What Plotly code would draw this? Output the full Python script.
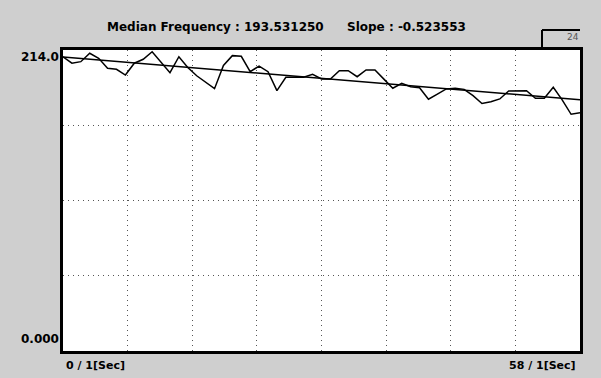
import plotly.graph_objects as go

# ---- data ----
seconds = list(range(0, 59))
median_freq = [
    209.2, 204.6, 205.7, 211.7, 208.1, 201.0, 200.3, 196.2, 204.6, 207.4,
    212.8, 205.7, 197.9, 209.2, 201.5, 195.7, 191.3, 186.5, 203.0, 210.0,
    209.5, 198.6, 202.6, 198.6, 185.1, 194.6, 194.6, 194.6, 196.7, 193.4,
    193.4, 199.3, 199.3, 195.0, 199.8, 199.8, 193.3, 186.8, 190.3, 187.9,
    187.2, 179.0, 182.6, 186.3, 186.8, 186.0, 181.5, 176.0, 177.2, 179.2,
    184.9, 185.0, 185.1, 179.7, 179.7, 187.5, 178.5, 168.3, 169.4,
]
fit_x = [0, 58]
fit_y = [209.0, 178.6]

y_max = 214.0
x_max = 58
title_median = "Median Frequency : 193.531250"
title_slope = "Slope : -0.523553"
y_top_label = "214.0"
y_bottom_label = "0.000"
x_left_label = "0 / 1[Sec]"
x_right_label = "58 / 1[Sec]"
corner_label = "24"

x_grid = [x_max * i / 8 for i in range(1, 8)]
y_grid = [y_max * i / 4 for i in range(1, 4)]

W, H = 601, 378
L, R, T, B = 63, 580, 50, 351


def px(x):
    return (x - L) / (R - L)


def py(y):
    return (B - y) / (B - T)


fig = go.Figure()
fig.add_trace(go.Scatter(x=seconds, y=median_freq, mode="lines",
                         line=dict(color="black", width=1.5), showlegend=False))
fig.add_trace(go.Scatter(x=fit_x, y=fit_y, mode="lines",
                         line=dict(color="black", width=1.5), showlegend=False))

font = dict(family="DejaVu Sans", size=12, color="black")
font_t = dict(family="DejaVu Sans", size=12, color="black")
font_b = dict(family="DejaVu Sans", size=11, color="black")

anns = [
    dict(text="<b>%s</b>" % title_median, x=px(105), y=py(27), xanchor="left", yanchor="middle", font=font_t),
    dict(text="<b>%s</b>" % title_slope, x=px(345), y=py(27), xanchor="left", yanchor="middle", font=font_t),
    dict(text="<b>%s</b>" % y_top_label, x=px(61), y=py(57), xanchor="right", yanchor="middle", font=font),
    dict(text="<b>%s</b>" % y_bottom_label, x=px(61), y=py(339), xanchor="right", yanchor="middle", font=font),
    dict(text="<b>%s</b>" % x_left_label, x=px(64), y=py(365), xanchor="left", yanchor="middle", font=font_b),
    dict(text="<b>%s</b>" % x_right_label, x=px(578), y=py(365), xanchor="right", yanchor="middle", font=font_b),
    dict(text=corner_label, x=px(573), y=py(37), xanchor="center", yanchor="middle",
         font=dict(family="DejaVu Sans", size=9, color="#555")),
]
for a in anns:
    a.update(xref="paper", yref="paper", showarrow=False)

shapes = [
    dict(type="line", xref="paper", yref="paper", x0=px(542), x1=px(542), y0=py(30), y1=py(49),
         line=dict(color="black", width=2)),
    dict(type="line", xref="paper", yref="paper", x0=px(542), x1=px(580), y0=py(30), y1=py(30),
         line=dict(color="black", width=2)),
]

fig.update_layout(
    width=W, height=H,
    margin=dict(l=L, r=W - R, t=T, b=H - B, pad=0),
    paper_bgcolor="#cfcfcf",
    plot_bgcolor="white",
    annotations=anns,
    shapes=shapes,
    showlegend=False,
)
grid_style = dict(showticklabels=False, ticks="", showgrid=True, gridcolor="#555",
                  gridwidth=1, griddash="1px,4px", zeroline=False, showline=True,
                  linecolor="black", linewidth=2.5, mirror=True)
fig.update_xaxes(range=[0, x_max], tickvals=x_grid, **grid_style)
fig.update_yaxes(range=[0, y_max], tickvals=y_grid, **grid_style)

fig.write_html("out.html", config={"displayModeBar": False},
               post_script="document.body.style.margin='0';document.body.style.overflow='hidden';")
